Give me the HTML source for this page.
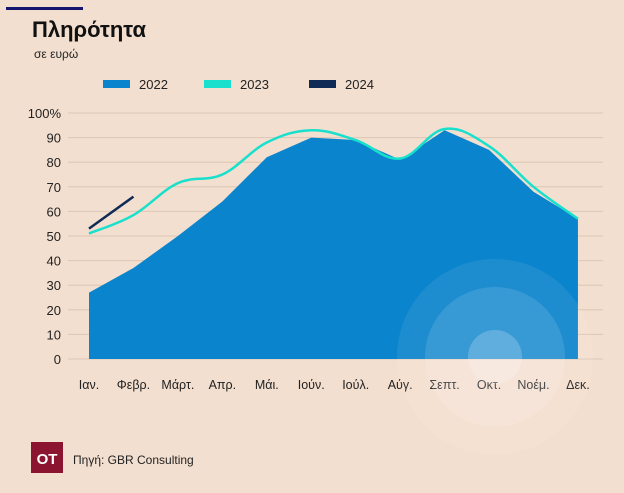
<!DOCTYPE html>
<html><head><meta charset="utf-8"><style>
body{margin:0;width:624px;height:493px;background:#f3dfcf;overflow:hidden;font-family:"Liberation Sans",sans-serif;}
svg{display:block}
</style></head><body>
<svg width="624" height="493" viewBox="0 0 624 493" xmlns="http://www.w3.org/2000/svg" id="chart">
<defs>
<clipPath id="areaClip"><path id="clipPath"/></clipPath>
</defs>
<rect x="0" y="0" width="624" height="493" fill="#f3dfcf"/>
<rect x="6" y="7" width="77" height="3" fill="#15156e"/>
<text x="32" y="37" font-size="22" font-weight="bold" fill="#111" font-family="Liberation Sans, DejaVu Sans, sans-serif">Πληρότητα</text>
<text x="34" y="58" font-size="12" fill="#222">σε ευρώ</text>
<g>
<g><rect x="103" y="80" width="27" height="8" fill="#0a84cc"/><text x="139" y="89" font-size="13" fill="#222">2022</text></g>
<g><rect x="204" y="80" width="27" height="8" fill="#19e0cc"/><text x="240" y="89" font-size="13" fill="#222">2023</text></g>
<g><rect x="309" y="80" width="27" height="8" fill="#0e2a55"/><text x="345" y="89" font-size="13" fill="#222">2024</text></g>
</g>
<g id="grid"></g>
<g id="yticks"></g>
<g id="xticks"></g>
<path id="area2022" fill="#0a84cc"/>
<g id="glow">
<circle cx="495" cy="357" r="98" fill="#ffffff" opacity="0.08"/>
<circle cx="495" cy="357" r="70" fill="#ffffff" opacity="0.12"/>
<circle cx="495" cy="357" r="27" fill="#ffffff" opacity="0.2"/>
</g>
<path id="line2023" fill="none" stroke="#19e0cc" stroke-width="2.5"/>
<path id="line2024" fill="none" stroke="#0e2a55" stroke-width="2.5"/>
<g>
<rect x="31" y="442" width="32" height="31" fill="#8b1530"/>
<text x="47" y="464" font-size="15" font-weight="bold" fill="#fff" text-anchor="middle">OT</text>
<text x="73" y="464" font-size="12" fill="#222">Πηγή: GBR Consulting</text>
</g>
</svg>
<script>
const months=["Ιαν.","Φεβρ.","Μάρτ.","Απρ.","Μάι.","Ιούν.","Ιούλ.","Αύγ.","Σεπτ.","Οκτ.","Νοέμ.","Δεκ."];
const values2022=[27,37,50,64,82,90,89,81,93,85,68,57];
const values2023=[51,58.5,71.5,75,88,93,89,81.5,93.5,86.5,70,57];
const values2024=[53,66];
const yTicks=[0,10,20,30,40,50,60,70,80,90,100];
const yTickLabels=["0","10","20","30","40","50","60","70","80","90","100%"];
const NS="http://www.w3.org/2000/svg";
function xScale(i){return 89+i*44.45;}
function yScale(v){return 359-v*2.46;}
function mk(tag,attrs){const e=document.createElementNS(NS,tag);for(const k in attrs)e.setAttribute(k,attrs[k]);return e;}
const grid=document.getElementById('grid'),yt=document.getElementById('yticks'),xt=document.getElementById('xticks');
yTicks.forEach((t,i)=>{
 const l=mk('line',{x1:68,x2:603,y1:yScale(t),y2:yScale(t),stroke:'#dcc6b4','stroke-width':1});
 
 
 grid.appendChild(l);
 const tx=mk('text',{x:61,y:yScale(t)+5,'font-size':13,fill:'#222','text-anchor':'end'});
 tx.textContent=yTickLabels[i];
 
 
 yt.appendChild(tx);
});
months.forEach((m,i)=>{
 const tx=mk('text',{x:xScale(i),y:389,'font-size':12.5,fill:'#222','text-anchor':'middle'});
 tx.textContent=m;
 
 
 xt.appendChild(tx);
});
function smooth(vals){
 const p=vals.map((v,i)=>[xScale(i),yScale(v)]);
 let d=`M${p[0][0]},${p[0][1]}`;
 for(let i=0;i<p.length-1;i++){
  const p0=p[Math.max(0,i-1)],p1=p[i],p2=p[i+1],p3=p[Math.min(p.length-1,i+2)];
  const t=0.18;
  d+=` C${p1[0]+(p2[0]-p0[0])*t},${p1[1]+(p2[1]-p0[1])*t} ${p2[0]-(p3[0]-p1[0])*t},${p2[1]-(p3[1]-p1[1])*t} ${p2[0]},${p2[1]}`;
 }
 return d;
}
let ad=`M${xScale(0)},${yScale(0)}`;
values2022.forEach((v,i)=>{ad+=` L${xScale(i)},${yScale(v)}`;});
ad+=` L${xScale(values2022.length-1)},${yScale(0)} Z`;
document.getElementById('area2022').setAttribute('d',ad);
document.getElementById('line2023').setAttribute('d',smooth(values2023));
document.getElementById('line2024').setAttribute('d',smooth(values2024));
</script>
</body></html>
